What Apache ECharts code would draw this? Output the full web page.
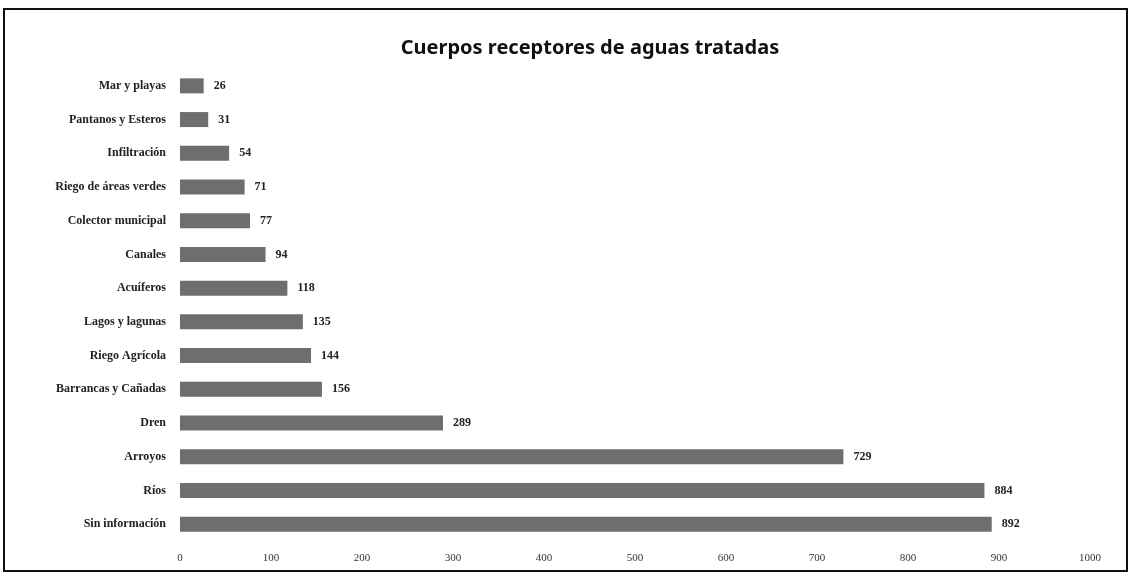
<!DOCTYPE html>
<html>
<head>
<meta charset="utf-8">
<script src="https://cdn.jsdelivr.net/npm/echarts@6/dist/echarts.min.js"></script>
<style>
html,body{margin:0;padding:0;background:#fff;}
#chart{width:1131px;height:576px;}
</style>
</head>
<body>
<div id="chart"></div>
<script>
const categories = [
  "Mar y playas", "Pantanos y Esteros", "Infiltración", "Riego de áreas verdes",
  "Colector municipal", "Canales", "Acuíferos", "Lagos y lagunas", "Riego Agrícola",
  "Barrancas y Cañadas", "Dren", "Arroyos", "Ríos", "Sin información"
];
const values = [26, 31, 54, 71, 77, 94, 118, 135, 144, 156, 289, 729, 884, 892];
const xTicks = [0, 100, 200, 300, 400, 500, 600, 700, 800, 900, 1000];
const titleText = "Cuerpos receptores de aguas tratadas";

const chart = echarts.init(document.getElementById('chart'), null, {renderer: 'canvas'});
chart.setOption({
  backgroundColor: '#ffffff',
  animation: false,
  title: {
    text: titleText,
    left: 585, top: 33, textAlign: 'center',
    textStyle: {fontFamily: 'Noto Sans', fontWeight: 'bold', fontSize: 20, color: '#111'}
  },
  graphic: [{
    type: 'rect', shape: {x: 4, y: 9, width: 1123, height: 562},
    style: {fill: 'none', stroke: '#111', lineWidth: 2}, silent: true
  }],
  grid: {left: 180, right: 41, top: 69, bottom: 35, containLabel: false},
  xAxis: {
    type: 'value', min: xTicks[0], max: xTicks[xTicks.length - 1], interval: 100,
    axisLine: {show: false}, axisTick: {show: false},
    splitLine: {show: false},
    axisLabel: {fontFamily: 'Liberation Serif', fontSize: 11, color: '#333', margin: 12,
      formatter: v => String(v)}
  },
  yAxis: {
    type: 'category', data: categories, inverse: true,
    axisLine: {show: false}, axisTick: {show: false},
    axisLabel: {fontFamily: 'Liberation Serif', fontWeight: 'bold', fontSize: 12, color: '#222', margin: 14}
  },
  series: [{
    type: 'bar', data: values, barWidth: 15,
    itemStyle: {color: '#6e6e6e'},
    label: {show: true, position: 'right', distance: 10,
      fontFamily: 'Liberation Serif', fontWeight: 'bold', fontSize: 12, color: '#222'}
  }]
});
</script>
</body>
</html>
